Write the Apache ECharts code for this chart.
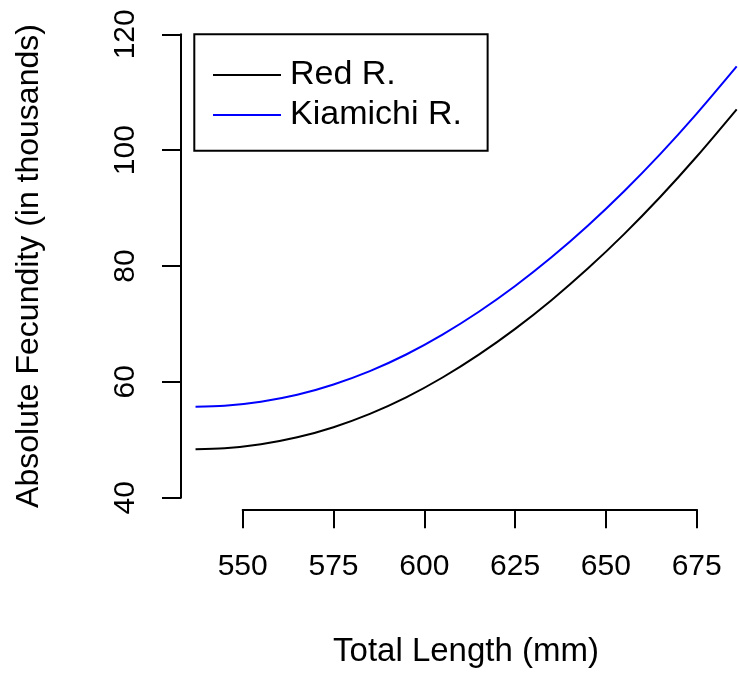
<!DOCTYPE html>
<html>
<head>
<meta charset="utf-8">
<script src="https://cdn.jsdelivr.net/npm/echarts@6/dist/echarts.min.js"></script>
<style>
html,body{margin:0;padding:0;background:#fff;}
#chart{width:738px;height:675px;}
</style>
</head>
<body>
<div id="chart"></div>
<script>
// Total length (mm)
var lengths = [537, 545, 555, 565, 575, 585, 595, 605, 615, 625, 635, 645, 655, 665, 675, 686];
// Absolute fecundity (thousands)
var redR = [48.35, 48.52, 49.22, 50.42, 52.17, 54.47, 57.32, 60.75, 64.7, 69.15, 74.1, 79.55, 85.5, 91.95, 98.9, 107.05];
var kiamichiR = [55.7, 55.87, 56.57, 57.77, 59.55, 61.85, 64.72, 68.15, 72.1, 76.55, 81.5, 86.95, 92.9, 99.35, 106.3, 114.45];
var seriesNames = ['Red R.', 'Kiamichi R.'];
var xTicks = [550, 575, 600, 625, 650, 675];
var yTicks = [40, 60, 80, 100, 120];

var FONT = 'Liberation Sans, Arial, sans-serif';

function pairs(xs, ys) { return xs.map(function (x, i) { return [x, ys[i]]; }); }

var chart = echarts.init(document.getElementById('chart'), null, {renderer: 'canvas'});
chart.setOption({
  backgroundColor: '#ffffff',
  animation: false,
  textStyle: {fontFamily: FONT},
  grid: [
    {left: 181, right: 1.3, top: 34.3, bottom: 177.3, containLabel: false},
    {left: 242.7, width: 454, top: 499, height: 10.3, containLabel: false}
  ],
  xAxis: [
    {type: 'value', gridIndex: 0, min: 533, max: 686, show: false},
    {type: 'value', gridIndex: 1, min: xTicks[0], max: xTicks[xTicks.length - 1], interval: 25,
     position: 'bottom',
     axisLine: {show: true, onZero: false, lineStyle: {color: '#000', width: 2}},
     axisTick: {show: true, length: 19, lineStyle: {color: '#000', width: 2}},
     axisLabel: {color: '#000', fontSize: 30, fontFamily: FONT, margin: 42},
     splitLine: {show: false}}
  ],
  yAxis: [
    {type: 'value', gridIndex: 0, min: yTicks[0], max: yTicks[yTicks.length - 1], interval: 20,
     axisLine: {show: true, onZero: false, lineStyle: {color: '#000', width: 2}},
     axisTick: {show: true, length: 19, lineStyle: {color: '#000', width: 2}},
     axisLabel: {color: '#000', fontSize: 30, fontFamily: FONT, rotate: 90, margin: 40},
     splitLine: {show: false},
     name: 'Absolute Fecundity (in thousands)', nameLocation: 'middle', nameGap: 136,
     nameTextStyle: {color: '#000', fontSize: 32, fontFamily: FONT}},
    {type: 'value', gridIndex: 1, show: false, min: 0, max: 1}
  ],
  legend: {
    orient: 'vertical', left: 194.3, top: 34.3,
    data: seriesNames,
    icon: 'rect', itemWidth: 68, itemHeight: 2, itemGap: 6,
    borderColor: '#000', borderWidth: 2, borderRadius: 0,
    padding: [23.7, 25.7, 18.7, 18.7],
    textStyle: {color: '#000', fontSize: 34, fontFamily: FONT, lineHeight: 34, padding: [0, 0, 0, 4]}
  },
  graphic: [{
    type: 'text', x: 466, y: 652,
    style: {text: 'Total Length (mm)', fill: '#000', font: '33px ' + FONT, textAlign: 'center', textVerticalAlign: 'middle'}
  }],
  series: [
    {name: seriesNames[0], type: 'line', xAxisIndex: 0, yAxisIndex: 0, data: pairs(lengths, redR),
     smooth: 0.3, showSymbol: false, symbol: 'none', color: '#000000',
     lineStyle: {color: '#000000', width: 2}},
    {name: seriesNames[1], type: 'line', xAxisIndex: 0, yAxisIndex: 0, data: pairs(lengths, kiamichiR),
     smooth: 0.3, showSymbol: false, symbol: 'none', color: '#0000ff',
     lineStyle: {color: '#0000ff', width: 2}}
  ]
});
</script>
</body>
</html>
